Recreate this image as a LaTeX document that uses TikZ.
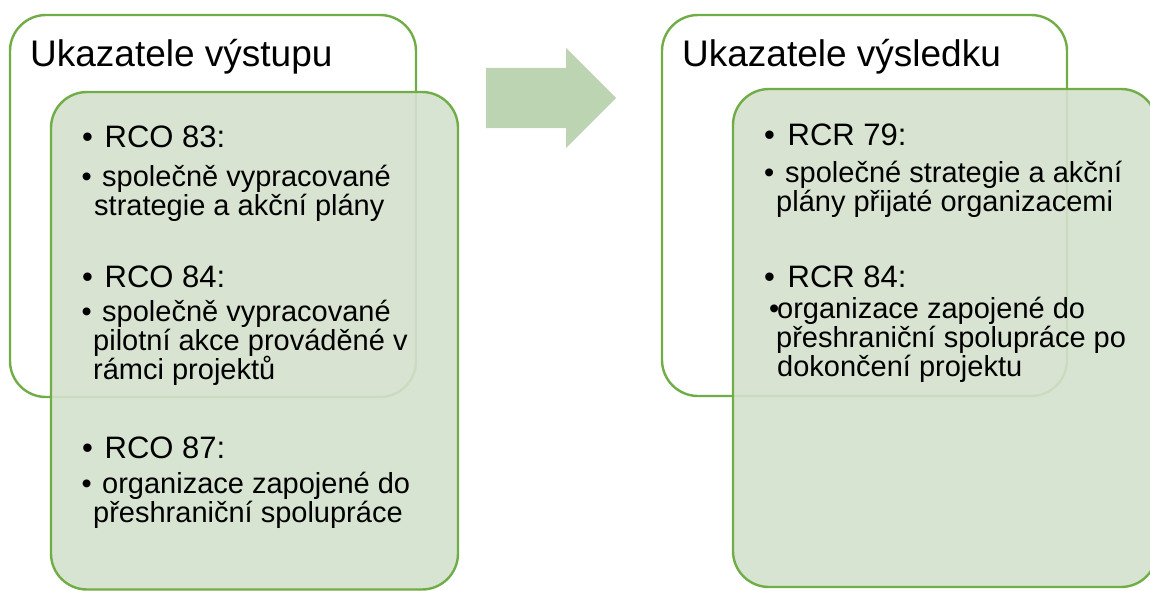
\documentclass[tikz,border=0pt]{standalone}
\usepackage{fontspec}
\setmainfont{Liberation Sans}
\definecolor{grline}{RGB}{112,173,71}
\definecolor{grfill}{RGB}{212,225,205}
\definecolor{arrowgreen}{RGB}{188,212,178}
\newcommand{\titlefont}{\fontsize{37}{42}\selectfont}
\newcommand{\headfont}{\fontsize{31}{35}\selectfont}
\newcommand{\bodyfont}{\fontsize{29}{33}\selectfont}
\tikzset{
  outerbox/.style={draw=grline, line width=2.4pt, fill=white, rounded corners=36pt},
  innerbox/.style={draw=grline, line width=2.4pt, fill=grfill, fill opacity=0.9, rounded corners=36pt},
  flowarrow/.style={fill=arrowgreen, draw=none},
  ttl/.style={anchor=base west, inner sep=0pt, font=\titlefont},
  hd/.style={anchor=base west, inner sep=0pt, font=\headfont},
  bd/.style={anchor=base west, inner sep=0pt, font=\bodyfont},
}
\begin{document}
\begin{tikzpicture}[x=1pt, y=-1pt]
\useasboundingbox (0,0) rectangle (1150,591);

% output indicators
\draw[outerbox] (10,15) rectangle (416,397);
\draw[innerbox] (51,92) rectangle (458,589.5);

% result indicators
\draw[outerbox] (662,15) rectangle (1067,396);
\draw[innerbox] (733,89) rectangle (1157,587);

% block arrow between the groups
\draw[flowarrow] (486,68) -- (566,68) -- (566,48) -- (616,98) -- (566,148) -- (566,128) -- (486,128) -- cycle;

% left group texts
\node[ttl] (lt) at (30,67) {Ukazatele výstupu};

\node[hd] (lb1) at (82,147) {•};
\node[hd] (lh1) at (104.5,147) {RCO 83:};
\node[bd] (ls1b) at (81.5,186) {•};
\node[bd] (ls1a) at (102,186) {společně vypracované};
\node[bd] (ls1c) at (94,215) {strategie a akční plány};

\node[hd] (lb2) at (82,287) {•};
\node[hd] (lh2) at (104.5,287) {RCO 84:};
\node[bd] (ls2b) at (81.5,321) {•};
\node[bd] (ls2a) at (102,321) {společně vypracované};
\node[bd] (ls2c) at (93,350) {pilotní akce prováděné v};
\node[bd] (ls2d) at (93,379) {rámci projektů};

\node[hd] (lb3) at (82,458) {•};
\node[hd] (lh3) at (104.5,458) {RCO 87:};
\node[bd] (ls3b) at (81.5,493) {•};
\node[bd] (ls3a) at (102,493) {organizace zapojené do};
\node[bd] (ls3c) at (93,522) {přeshraniční spolupráce};

% right group texts
\node[ttl] (rt) at (682,67) {Ukazatele výsledku};

\node[hd] (rb1) at (764,146) {•};
\node[hd] (rh1) at (787.5,146) {RCR 79:};
\node[bd] (rs1b) at (764,182) {•};
\node[bd] (rs1a) at (785,182) {společné strategie a akční};
\node[bd] (rs1c) at (776,211) {plány přijaté organizacemi};

\node[hd] (rb2) at (764,287) {•};
\node[hd] (rh2) at (787.5,287) {RCR 84:};
\node[bd] (rs2b) at (769,318) {•};
\node[bd] (rs2a) at (777,318) {organizace zapojené do};
\node[bd] (rs2c) at (776,347) {přeshraniční spolupráce po};
\node[bd] (rs2d) at (777,376) {dokončení projektu};
\end{tikzpicture}
\end{document}
